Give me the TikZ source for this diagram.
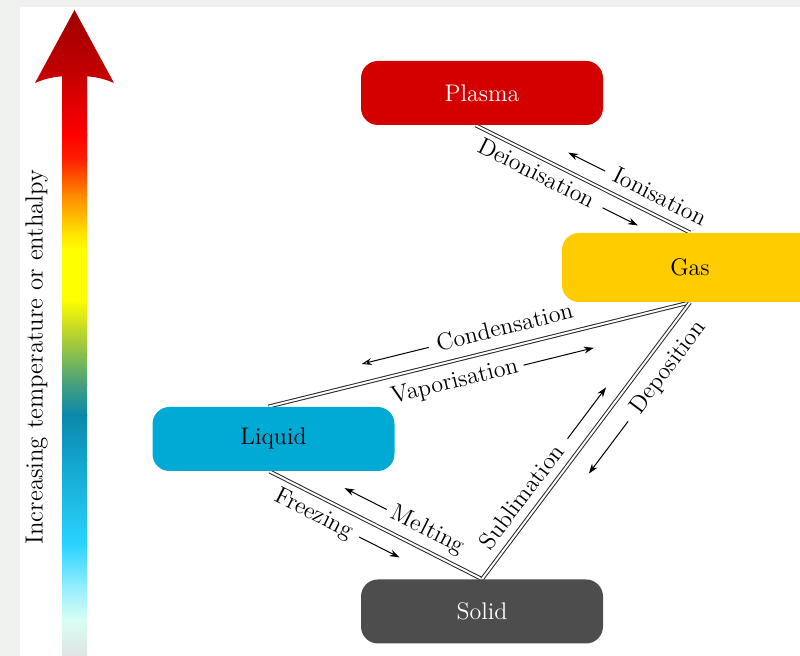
\documentclass[tikz,border=0pt]{standalone}
\usetikzlibrary{calc,arrows.meta}

\definecolor{bgpanel}{HTML}{EFF1EF}
\definecolor{plasmared}{HTML}{D40000}
\definecolor{gasyellow}{HTML}{FFCC00}
\definecolor{liquidblue}{HTML}{00AAD4}
\definecolor{solidgrey}{HTML}{4D4D4D}
\definecolor{linkgrey}{HTML}{262626}
% colour stops of the temperature scale, top to bottom
\definecolor{tsA}{HTML}{C80000}
\definecolor{tsB}{HTML}{FF0000}
\definecolor{tsC}{HTML}{FF2000}
\definecolor{tsD}{HTML}{FF8800}
\definecolor{tsE}{HTML}{FFE000}
\definecolor{tsF}{HTML}{FFFF00}
\definecolor{tsG}{HTML}{FFFF00}
\definecolor{tsH}{HTML}{CCDD22}
\definecolor{tsI}{HTML}{88BE4E}
\definecolor{tsJ}{HTML}{449F80}
\definecolor{tsK}{HTML}{0A88AA}
\definecolor{tsL}{HTML}{12A4CC}
\definecolor{tsM}{HTML}{2AD4FF}
\definecolor{tsN}{HTML}{90ECFF}
\definecolor{tsO}{HTML}{D8FFF4}
\definecolor{tsP}{HTML}{E0E4E4}
\definecolor{tipred}{HTML}{A00000}

\pgfdeclarelayer{back}
\pgfsetlayers{back,main}

\begin{document}
\begin{tikzpicture}[x=0.5pt,y=-0.5pt,
  state/.style={rounded corners=8.5pt, minimum width=121pt, minimum height=32pt,
    inner sep=0pt, font=\fontsize{12}{14}\selectfont},
  conn/.style={draw=linkgrey, line width=0.5pt, double=white, double distance=1pt},
  lbl/.style={sloped, inner sep=0pt, text height=8.5pt, text depth=2.5pt,
    font=\fontsize{12}{14}\selectfont},
  flow/.style={draw=black, line width=0.5pt, -{Stealth[length=5pt,width=3.4pt]}},
  flowopen/.style={draw=black, line width=0.5pt, -{Stealth[open,length=5pt,width=3.4pt]}},
]
\useasboundingbox (0,0) rectangle (800,656);

% panel
\begin{pgfonlayer}{back}
  \fill[bgpanel] (0,0) rectangle (800,656);
  \fill[white] (20,7) rectangle (800,656);
\end{pgfonlayer}

% temperature scale arrow
\foreach \ya/\ca/\yb/\cb in {76/tsA/135/tsB, 135/tsB/160/tsC, 160/tsC/195/tsD,
    195/tsD/232/tsE, 232/tsE/250/tsF, 250/tsF/300/tsG, 300/tsG/325/tsH,
    325/tsH/355/tsI, 355/tsI/385/tsJ, 385/tsJ/415/tsK, 415/tsK/460/tsL,
    460/tsL/545/tsM, 545/tsM/585/tsN, 585/tsN/620/tsO, 620/tsO/656/tsP}
  \shade[top color=\ca, bottom color=\cb] (62,\ya-0.4) rectangle (87,\yb+0.4);
\shade[top color=tipred, bottom color=tsA]
  (74.5,10) -- (114,83) .. controls (100,77) and (90,76) .. (74.5,76)
  .. controls (59,76) and (49,77) .. (35,83) -- cycle;
\node[rotate=90, anchor=base, inner sep=0pt, font=\fontsize{12.4}{14}\selectfont]
  (scale) at (42.5,357) {Increasing temperature or enthalpy};

% states of matter
\node[state, fill=plasmared, text=white] (plasma) at (482,93) {Plasma};
\node[state, fill=gasyellow, minimum width=128pt, minimum height=34.5pt] (gas) at (690,267.5) {Gas};
\node[state, fill=liquidblue] (liquid) at (273.5,439) {Liquid};
\node[state, fill=solidgrey, text=white] (solid) at (482,611.5) {Solid};

% connector end points
\coordinate (pa) at ([xshift=-3pt]plasma.south);
\coordinate (ga) at (gas.north);
\coordinate (lb) at ([xshift=-2.5pt]liquid.north);
\coordinate (gb) at (gas.south);
\coordinate (lc) at ([xshift=-2pt]liquid.south);
\coordinate (sc) at (solid.north);

\begin{pgfonlayer}{back}
  \draw[conn] (pa) -- (ga);
  \draw[conn] (lb) -- (gb);
  \draw[conn] (lc) -- (sc);
  \draw[conn] (sc) -- (gb);
\end{pgfonlayer}

% plasma <-> gas
\coordinate (a1) at ($(pa)!8.5pt!-90:(ga)$);
\coordinate (a2) at ($(ga)!8.5pt!90:(pa)$);
\coordinate (a3) at ($(pa)!8.5pt!90:(ga)$);
\coordinate (a4) at ($(ga)!8.5pt!-90:(pa)$);
\path (a1) -- (a2) node[lbl, pos=.316] (deion) {Deionisation};
\draw[flow] ($(a1)!.627!(a2)$) -- ($(a1)!.792!(a2)$);
\draw[flow] ($(a3)!.568!(a4)$) -- ($(a3)!.396!(a4)$);
\path (a3) -- (a4) node[lbl, pos=.82] (ion) {Ionisation};

% liquid <-> gas
\coordinate (b1) at ($(lb)!9.5pt!90:(gb)$);
\coordinate (b2) at ($(gb)!9.5pt!-90:(lb)$);
\coordinate (b3) at ($(lb)!10.5pt!-90:(gb)$);
\coordinate (b4) at ($(gb)!10.5pt!90:(lb)$);
\draw[flowopen] ($(b1)!.391!(b2)$) -- ($(b1)!.232!(b2)$);
\path (b1) -- (b2) node[lbl, pos=.572] (cond) {Condensation};
\path (b3) -- (b4) node[lbl, pos=.43] (vap) {Vaporisation};
\draw[flow] ($(b3)!.593!(b4)$) -- ($(b3)!.760!(b4)$);

% liquid <-> solid
\coordinate (c1) at ($(lc)!9pt!-90:(sc)$);
\coordinate (c2) at ($(sc)!9pt!90:(lc)$);
\coordinate (c3) at ($(lc)!9.5pt!90:(sc)$);
\coordinate (c4) at ($(sc)!9.5pt!-90:(lc)$);
\path (c1) -- (c2) node[lbl, pos=.247] (freeze) {Freezing};
\draw[flow] ($(c1)!.46!(c2)$) -- ($(c1)!.65!(c2)$);
\draw[flow] ($(c3)!.511!(c4)$) -- ($(c3)!.313!(c4)$);
\path (c3) -- (c4) node[lbl, pos=.704] (melt) {Melting};

% solid <-> gas
\coordinate (d1) at ($(sc)!8pt!90:(gb)$);
\coordinate (d2) at ($(gb)!8pt!-90:(sc)$);
\coordinate (d3) at ($(sc)!11pt!-90:(gb)$);
\coordinate (d4) at ($(gb)!11pt!90:(sc)$);
\path (d1) -- (d2) node[lbl, pos=.258] (subl) {Sublimation};
\draw[flow] ($(d1)!.473!(d2)$) -- ($(d1)!.658!(d2)$);
\draw[flow] ($(d3)!.618!(d4)$) -- ($(d3)!.429!(d4)$);
\path (d3) -- (d4) node[lbl, pos=.812] (depo) {Deposition};
\end{tikzpicture}
\end{document}
